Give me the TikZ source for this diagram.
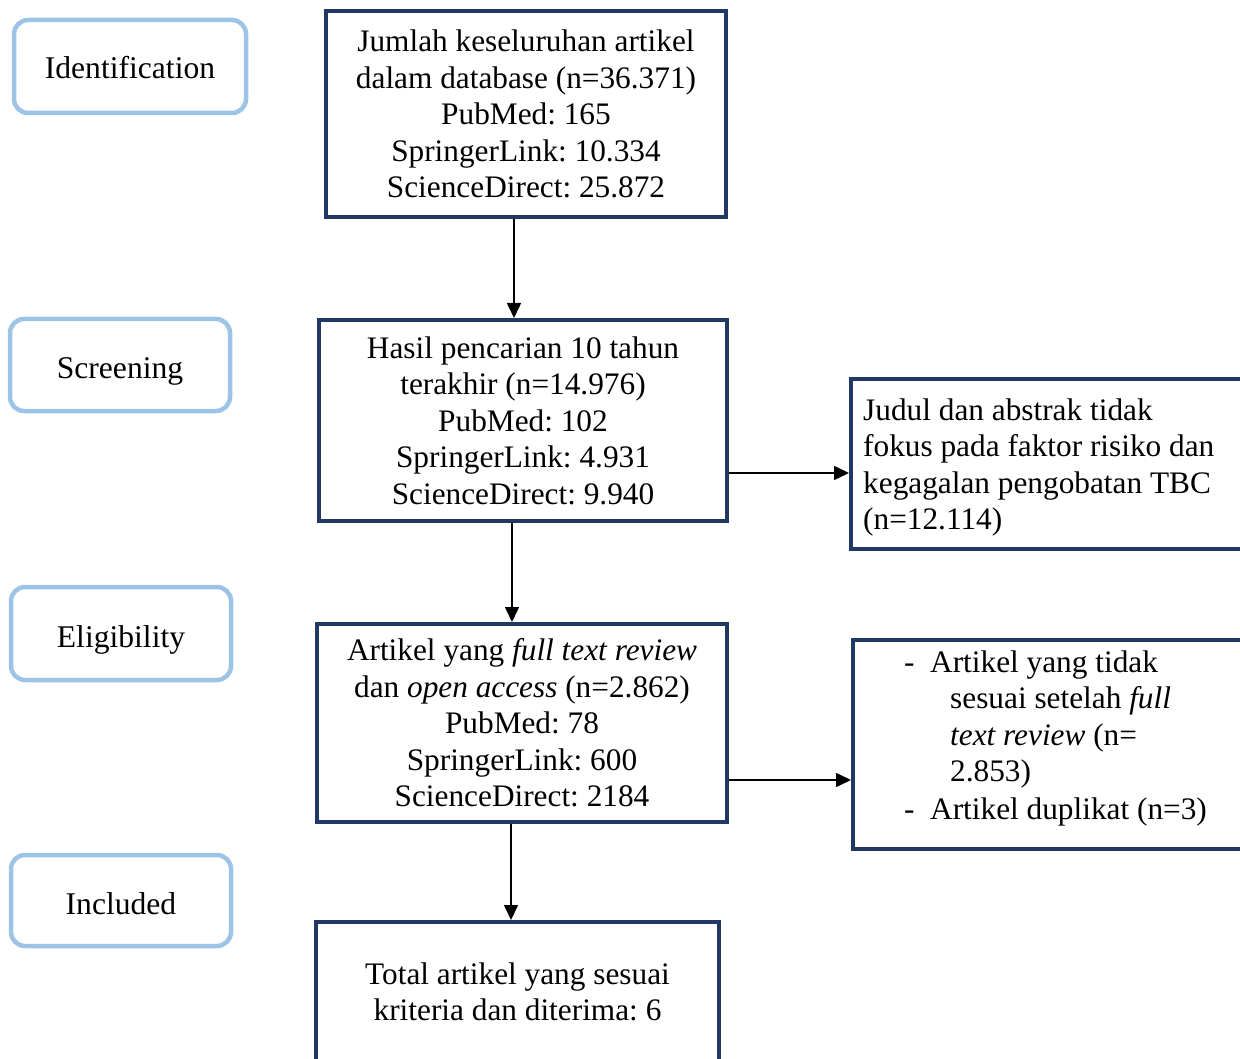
\documentclass[tikz,border=0pt]{standalone}
\usepackage{fontspec}
\setmainfont{Liberation Serif}
\usetikzlibrary{arrows.meta,calc}
\definecolor{navy}{RGB}{31,56,100}
\definecolor{stageblue}{RGB}{157,195,230}
\frenchspacing
\begin{document}
\begin{tikzpicture}[x=1pt,y=-1pt,
  stage/.style={draw=stageblue, line width=4.5pt, rounded corners=14pt, fill=white, inner sep=0pt, text height=29pt, text depth=2pt, font=\fontsize{31.6}{36.5}\selectfont},
  flowbox/.style={draw=navy, line width=4pt, fill=white, inner sep=0pt, align=center, font=\fontsize{31.3}{36.5}\selectfont},
  sidebox/.style={draw=navy, line width=4pt, fill=white, inner sep=0pt},
  sidetext/.style={inner sep=0pt, align=left, anchor=west, font=\fontsize{31.3}{36.5}\selectfont},
  conn/.style={line width=1.6pt, -{Triangle[length=15pt,width=14pt]}}]
\useasboundingbox (0,0) rectangle (1240,1059);

% stage labels
\node[stage, text height=27pt, minimum width=232pt, minimum height=93pt] (sid) at (130,66.5) {Identification};
\node[stage, minimum width=220pt, minimum height=92pt] (ssc) at (120,365) {Screening};
\node[stage, minimum width=220pt, minimum height=93pt] (sel) at (121,633.5) {Eligibility};
\node[stage, minimum width=220pt, minimum height=91pt] (sin) at (121,900.5) {Included};

% main flow
\node[flowbox, minimum width=400pt, minimum height=206pt] (b1) at (526,114)
  {Jumlah keseluruhan artikel\\dalam database (n=36.371)\\PubMed: 165\\SpringerLink: 10.334\\ScienceDirect: 25.872};
\node[flowbox, minimum width=408pt, minimum height=201pt] (b2) at (523,420.5)
  {Hasil pencarian 10 tahun\\terakhir (n=14.976)\\PubMed: 102\\SpringerLink: 4.931\\ScienceDirect: 9.940};
\node[flowbox, minimum width=410pt, minimum height=198pt] (b3) at (522,723)
  {Artikel yang \textit{full text review}\\dan \textit{open access} (n=2.862)\\PubMed: 78\\SpringerLink: 600\\ScienceDirect: 2184};
\node[flowbox, minimum width=403pt, minimum height=140pt] (b4) at (517.5,992)
  {Total artikel yang sesuai\\kriteria dan diterima: 6};

% side boxes
\node[sidebox, minimum width=399pt, minimum height=170pt] (r1) at (1050.5,464) {};
\node[sidetext] (r1t) at (863,467.5)
  {Judul dan abstrak tidak\\fokus pada faktor risiko dan\\kegagalan pengobatan TBC\\(n=12.114)};
\node[sidebox, minimum width=397pt, minimum height=209pt] (r2) at (1051.5,744.5) {};
\node[sidetext] (r2t) at (863,738.5)
  {\hspace*{41pt}\makebox[26pt][l]{-}Artikel yang tidak\\
   \hspace*{87pt}sesuai setelah \textit{full}\\
   \hspace*{87pt}\textit{text review} (n=\\
   \hspace*{87pt}2.853)\\[1.5pt]
   \hspace*{41pt}\makebox[26pt][l]{-}Artikel duplikat (n=3)};

% connector anchor points
\coordinate (c1) at ($(b1.south)+(-12,0)$);
\coordinate (c2) at ($(b2.south)+(-11,0)$);
\coordinate (c3) at ($(b3.south)+(-11,0)$);
\coordinate (c4) at ($(b2.east)+(0,52.5)$);
\coordinate (c5) at ($(b3.east)+(0,57)$);

% connectors
\draw[conn] (c1) -- (c1 |- b2.north);
\draw[conn] (c2) -- (c2 |- b3.north);
\draw[conn] (c3) -- (c3 |- b4.north);
\draw[conn] (c4) -- (c4 -| r1.west);
\draw[conn] (c5) -- (c5 -| r2.west);
\end{tikzpicture}
\end{document}
